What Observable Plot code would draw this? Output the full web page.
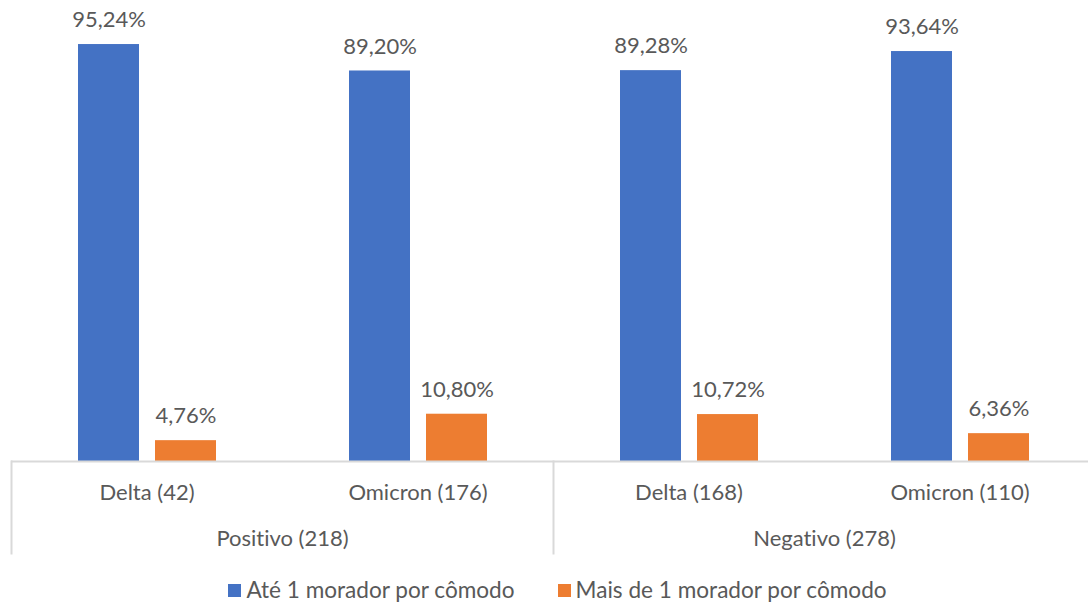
<!DOCTYPE html>
<html>
<head>
<meta charset="utf-8">
<script src="https://cdn.jsdelivr.net/npm/d3@7"></script>
<script src="https://cdn.jsdelivr.net/npm/@observablehq/plot@0.6"></script>
<style>
  html, body { margin: 0; padding: 0; background: #fff; }
  body { width: 1088px; height: 602px; overflow: hidden; font-family: Lato, "Open Sans", sans-serif; color: #595959; font-variant-ligatures: none; }
  #chart svg { display: block; font-variant-ligatures: none; }
  #legend { display: flex; justify-content: center; gap: 43px; padding: 13px 0 0 27px; height: 24px; font-size: 22.6px; line-height: 24px; }
  #legend .item { display: flex; align-items: center; gap: 5px; white-space: nowrap; }
  #legend .swatch { width: 13px; height: 13px; display: inline-block; }
</style>
</head>
<body>
<div id="chart"></div>
<div id="legend"></div>
<script>
// Test result groups and the variant subgroups inside each of them
const groups = ["Positivo (218)", "Negativo (278)"];
const subgroups = ["Delta (42)", "Omicron (176)", "Delta (168)", "Omicron (110)"];
const subgroupParent = ["Positivo (218)", "Positivo (218)", "Negativo (278)", "Negativo (278)"];

// Household density series (percent of each subgroup)
const series = ["Até 1 morador por cômodo", "Mais de 1 morador por cômodo"];
const upToOne = [95.24, 89.20, 89.28, 93.64];
const moreThanOne = [4.76, 10.80, 10.72, 6.36];
const seriesColors = ["#4472C4", "#ED7D31"];

const rows = subgroups.flatMap((sub, i) => [
  {sub, series: series[0], value: upToOne[i]},
  {sub, series: series[1], value: moreThanOne[i]}
]);

// first subgroup of each group: its facet hosts the group label and the left separator
const firstSub = g => subgroups[subgroupParent.indexOf(g)];
const pct = v => v.toFixed(2).replace(".", ",") + "%";
const axisGray = "#d9d9d9";
const textGray = "#595959";

const chart = Plot.plot({
  width: 1088,
  height: 565,
  marginTop: 461,
  marginBottom: 12,
  marginLeft: 11,
  marginRight: 0,
  style: {fontFamily: "Lato, 'Open Sans', sans-serif", fontSize: "22px", color: textGray, background: "transparent", overflow: "visible"},
  fx: {domain: subgroups, range: [11, 1095], padding: 0, axis: null},
  x: {domain: series, paddingInner: 0.21, paddingOuter: 0.86, axis: null},
  y: {domain: [0, 100], range: [461, 23.2], axis: null},
  color: {domain: series, range: seriesColors},
  marks: [
    Plot.barY(rows, {fx: "sub", x: "series", y: "value", fill: "series"}),
    Plot.text(rows, {fx: "sub", x: "series", y: "value", text: d => pct(d.value), dy: -24.5, lineAnchor: "middle", fill: textGray}),
    Plot.ruleY([0], {stroke: axisGray, strokeWidth: 2}),
    ...groups.map(g => Plot.frame({fx: firstSub(g), anchor: "left", stroke: axisGray, strokeWidth: 2})),
    Plot.text(subgroups, {fx: d => d, text: d => d, frameAnchor: "top", dy: 31, lineAnchor: "middle", fill: textGray}),
    Plot.text(groups, {fx: firstSub, text: d => d, frameAnchor: "bottom-right", textAnchor: "middle", dy: -15, lineAnchor: "middle", fill: textGray})
  ]
});
document.getElementById("chart").append(chart);

// legend below the chart
const legend = d3.select("#legend");
series.forEach((s, i) => {
  const item = legend.append("div").attr("class", "item");
  item.append("span").attr("class", "swatch").style("background", seriesColors[i]);
  item.append("span").text(s);
});
</script>
</body>
</html>
